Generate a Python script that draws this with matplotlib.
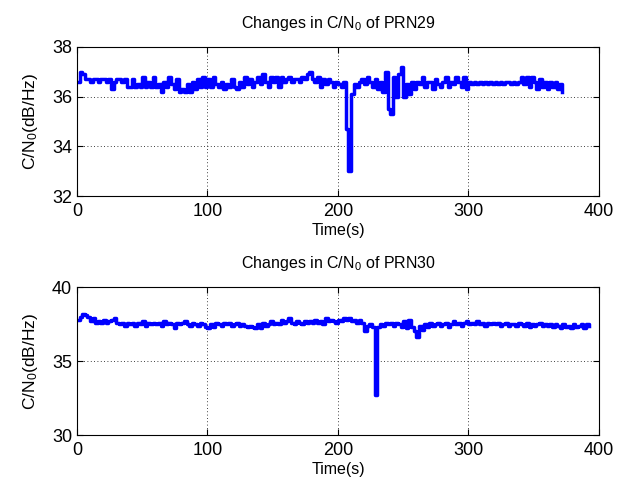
import numpy as np
import matplotlib
matplotlib.use("Agg")
import matplotlib.pyplot as plt

plt.rcParams["font.family"] = ["Liberation Sans", "DejaVu Sans"]
plt.rcParams["mathtext.default"] = "regular"

t29 = np.arange(0, 374, 2)
cn29 = [
    36.6, 37.0, 36.9, 36.7, 36.7, 36.6, 36.7, 36.7, 36.6, 36.7,
    36.7, 36.6, 36.7, 36.3, 36.6, 36.7, 36.7, 36.6, 36.7, 36.4,
    36.4, 36.7, 36.4, 36.5, 36.4, 36.8, 36.4, 36.6, 36.4, 36.8,
    36.4, 36.5, 36.2, 36.6, 36.4, 36.8, 36.5, 36.3, 36.7, 36.2,
    36.3, 36.2, 36.5, 36.2, 36.6, 36.3, 36.7, 36.4, 36.8, 36.4,
    36.7, 36.4, 36.8, 36.5, 36.4, 36.6, 36.3, 36.5, 36.4, 36.7,
    36.4, 36.3, 36.6, 36.4, 36.8, 36.5, 36.7, 36.4, 36.6, 36.8,
    36.5, 36.9, 36.6, 36.4, 36.8, 36.6, 36.8, 36.4, 36.8, 36.6,
    36.7, 36.8, 36.6, 36.7, 36.7, 36.6, 36.8, 36.7, 36.9, 37.0,
    36.7, 36.6, 36.8, 36.4, 36.7, 36.5, 36.7, 36.6, 36.4, 36.6,
    36.5, 36.4, 36.6, 34.7, 33.0, 36.1, 36.5, 36.4, 36.6, 36.7,
    36.5, 36.8, 36.6, 36.4, 36.7, 36.3, 36.6, 36.2, 37.0, 35.5,
    35.3, 36.8, 36.0, 36.9, 37.2, 36.0, 36.5, 36.1, 36.6, 36.3,
    36.6, 36.5, 36.8, 36.4, 36.6, 36.6, 36.3, 36.7, 36.5, 36.4,
    36.6, 36.8, 36.4, 36.6, 36.5, 36.8, 36.6, 36.4, 36.8, 36.3,
    36.6, 36.5, 36.6, 36.5, 36.6, 36.5, 36.6, 36.5, 36.6, 36.5,
    36.6, 36.5, 36.6, 36.5, 36.6, 36.6, 36.5, 36.6, 36.5, 36.6,
    36.8, 36.5, 36.8, 36.4, 36.8, 36.6, 36.3, 36.7, 36.4, 36.6,
    36.3, 36.6, 36.4, 36.6, 36.3, 36.5, 36.2,
]

# PRN30: C/N0 sampled every 2 s
t30 = np.arange(0, 394, 2)
cn30 = [
    37.8, 38.0, 38.2, 38.1, 38.0, 37.7, 37.9, 37.6, 37.7, 37.6,
    37.8, 37.6, 37.7, 37.8, 37.9, 37.6, 37.5, 37.6, 37.4, 37.6,
    37.5, 37.6, 37.4, 37.6, 37.5, 37.7, 37.4, 37.6, 37.5, 37.6,
    37.5, 37.6, 37.4, 37.7, 37.5, 37.6, 37.5, 37.2, 37.6, 37.5,
    37.6, 37.7, 37.5, 37.4, 37.6, 37.5, 37.4, 37.6, 37.5, 37.3,
    37.2, 37.5, 37.3, 37.6, 37.5, 37.4, 37.6, 37.5, 37.6, 37.4,
    37.5, 37.6, 37.4, 37.5, 37.4, 37.3, 37.4, 37.3, 37.2, 37.5,
    37.2, 37.6, 37.4, 37.5, 37.7, 37.5, 37.6, 37.5, 37.8, 37.6,
    37.7, 37.9, 37.6, 37.5, 37.7, 37.6, 37.5, 37.7, 37.6, 37.7,
    37.6, 37.8, 37.6, 37.7, 37.5, 37.9, 37.7, 37.8, 37.7, 37.6,
    37.8, 37.7, 37.9, 37.8, 37.9, 37.7, 37.8, 37.6, 37.8, 37.6,
    37.0, 37.4, 37.5, 37.3, 32.7, 37.3, 37.5, 37.4, 37.6, 37.5,
    37.6, 37.4, 37.6, 37.5, 37.3, 37.7, 37.2, 37.8, 37.3, 37.0,
    36.6, 37.4, 37.1, 37.5, 37.3, 37.6, 37.4, 37.5, 37.6, 37.4,
    37.5, 37.6, 37.3, 37.5, 37.7, 37.5, 37.6, 37.4, 37.6, 37.7,
    37.5, 37.6, 37.5, 37.7, 37.5, 37.6, 37.4, 37.6, 37.5, 37.6,
    37.5, 37.6, 37.4, 37.5, 37.6, 37.4, 37.5, 37.5, 37.4, 37.6,
    37.5, 37.4, 37.6, 37.3, 37.5, 37.4, 37.5, 37.6, 37.4, 37.5,
    37.4, 37.5, 37.3, 37.5, 37.4, 37.2, 37.5, 37.3, 37.4, 37.2,
    37.5, 37.3, 37.4, 37.5, 37.2, 37.5, 37.4,
]

panels = [
    (t29, cn29, "PRN29", (32, 38), [32, 34, 36, 38], [0.1226, 0.5967, 0.8312, 0.3066]),
    (t30, cn30, "PRN30", (30, 40), [30, 35, 40], [0.1226, 0.1049, 0.8312, 0.3045]),
]

fig = plt.figure(figsize=(6.28, 4.86), dpi=100)

for t, cn, prn, ylim, yticks, pos in panels:
    ax = fig.add_axes(pos)
    ax.plot(t, cn, color=(0, 0, 1), linewidth=2.5, drawstyle="steps-post")
    ax.set_xlim(0, 400)
    ax.set_ylim(ylim)
    ax.set_xticks([0, 100, 200, 300, 400])
    ax.set_yticks(yticks)
    ax.grid(True, color="black", linestyle=(0, (1, 3)), linewidth=0.6)
    ax.tick_params(direction="in", top=True, right=True, labelsize=13,
                   length=4)
    ax.tick_params(axis="x", pad=5)
    ax.set_title(f"Changes in C/N$_0$ of {prn}", fontsize=11.5, pad=14)
    ax.set_xlabel("Time(s)", fontsize=11.5, labelpad=2)
    ax.set_ylabel("C/N$_0$(dB/Hz)", fontsize=12.5, labelpad=9)
    for spine in ax.spines.values():
        spine.set_linewidth(0.8)

fig.savefig("out.png", dpi=100)
